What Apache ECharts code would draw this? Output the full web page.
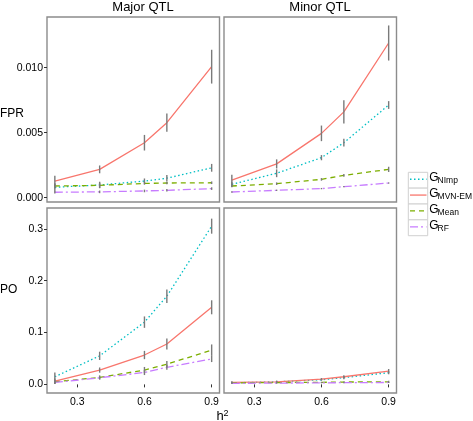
<!DOCTYPE html>
<html>
<head>
<meta charset="utf-8">
<script src="https://cdn.jsdelivr.net/npm/echarts@6/dist/echarts.min.js"></script>
<style>html,body{margin:0;padding:0;background:#fff;}#c{width:473px;height:421px;}</style>
</head>
<body>
<div id="c"></div>
<script>
// ---- data ----
const h2 = [0.2, 0.4, 0.6, 0.7, 0.9];
const methodNames = ['NImp', 'MVN-EM', 'Mean', 'RF'];
const panelTitles = ['Major QTL', 'Minor QTL'];
const rowLabels = ['FPR', 'PO'];
const xTicks = [0.3, 0.6, 0.9];
const fprTicks = [0, 0.005, 0.010];
const poTicks = [0, 0.1, 0.2, 0.3];

// Major QTL, FPR
const majFprNImp = [0.0008, 0.00098, 0.00128, 0.0015, 0.0023];
const majFprMvn  = [0.00128, 0.00218, 0.00423, 0.00577, 0.01008];
const majFprMean = [0.0009, 0.00095, 0.0011, 0.00113, 0.00115];
const majFprRF   = [0.00042, 0.00045, 0.00052, 0.00057, 0.0007];
const majFprNImpErr = [0.0003, 0.00025, 0.0002, 0.00025, 0.0003];
const majFprMvnErr  = [0.0004, 0.0003, 0.0006, 0.0007, 0.0013];
const majFprMeanErr = [0.0002, 0.0002, 0.0001, 0.0001, 0.0001];
const majFprRFErr   = [0.0001, 0.0001, 0.0001, 0.0001, 0.0001];

// Minor QTL, FPR
const minFprNImp = [0.00103, 0.00188, 0.00308, 0.00423, 0.00713];
const minFprMvn  = [0.00136, 0.0026, 0.00495, 0.0066, 0.0119];
const minFprMean = [0.0009, 0.00108, 0.00141, 0.00172, 0.00218];
const minFprRF   = [0.00044, 0.00057, 0.0007, 0.00085, 0.00113];
const minFprNImpErr = [0.0002, 0.0003, 0.0002, 0.0003, 0.0003];
const minFprMvnErr  = [0.0004, 0.00035, 0.0006, 0.0009, 0.00135];
const minFprMeanErr = [0.0001, 0.0001, 0.0001, 0.0001, 0.0002];
const minFprRFErr   = [0.00005, 0.00005, 0.00005, 0.00005, 0.00005];

// Major QTL, PO
const majPoNImp = [0.0147, 0.055, 0.12, 0.17, 0.305];
const majPoMvn  = [0.0064, 0.0276, 0.0566, 0.0778, 0.1486];
const majPoMean = [0.005, 0.0134, 0.0276, 0.039, 0.066];
const majPoRF   = [0.0037, 0.0127, 0.023, 0.033, 0.049];
const majPoNImpErr = [0.008, 0.008, 0.011, 0.013, 0.0145];
const majPoMvnErr  = [0.005, 0.005, 0.008, 0.0106, 0.0135];
const majPoMeanErr = [0.004, 0.004, 0.006, 0.006, 0.011];
const majPoRFErr   = [0.003, 0.003, 0.005, 0.005, 0.006];

// Minor QTL, PO
const minPoNImp = [0.003, 0.005, 0.009, 0.013, 0.0225];
const minPoMvn  = [0.004, 0.005, 0.0102, 0.0147, 0.0257];
const minPoMean = [0.003, 0.0035, 0.004, 0.0045, 0.005];
const minPoRF   = [0.002, 0.0025, 0.003, 0.0033, 0.0037];
const minPoNImpErr = [0.002, 0.002, 0.002, 0.003, 0.003];
const minPoMvnErr  = [0.002, 0.002, 0.002, 0.003, 0.004];
const minPoMeanErr = [0.001, 0.001, 0.001, 0.001, 0.002];
const minPoRFErr   = [0.001, 0.001, 0.001, 0.001, 0.001];

// ---- styles ----
const colors = ['#00BFC4', '#F8766D', '#7CAE00', '#C77CFF'];
const dashes = [[1.5, 2.5], 'solid', [5, 4], [8, 3, 2, 3]];
const FONT = 'Liberation Sans, Arial, sans-serif';

const panels = [
  {left: 47, top: 17, vals: [majFprNImp, majFprMvn, majFprMean, majFprRF], errs: [majFprNImpErr, majFprMvnErr, majFprMeanErr, majFprRFErr], row: 0, col: 0},
  {left: 224, top: 17, vals: [minFprNImp, minFprMvn, minFprMean, minFprRF], errs: [minFprNImpErr, minFprMvnErr, minFprMeanErr, minFprRFErr], row: 0, col: 1},
  {left: 47, top: 208, vals: [majPoNImp, majPoMvn, majPoMean, majPoRF], errs: [majPoNImpErr, majPoMvnErr, majPoMeanErr, majPoRFErr], row: 1, col: 0},
  {left: 224, top: 208, vals: [minPoNImp, minPoMvn, minPoMean, minPoRF], errs: [minPoNImpErr, minPoMvnErr, minPoMeanErr, minPoRFErr], row: 1, col: 1}
];

const grids = [], xAxes = [], yAxes = [], series = [];
panels.forEach((p, gi) => {
  grids.push({left: p.left, top: p.top, width: 172.5, height: 185, show: true,
    borderColor: '#8c8c8c', borderWidth: 1.4, backgroundColor: '#fff', containLabel: false});
  const bottomRow = p.row === 1;
  xAxes.push({type: 'value', gridIndex: gi, min: 0.165, max: 0.935,
    axisLine: {show: false}, splitLine: {show: false},
    axisTick: {show: bottomRow, customValues: xTicks, length: 3, lineStyle: {color: '#333', width: 1}},
    axisLabel: {show: bottomRow, customValues: xTicks, margin: 4, color: '#000', fontSize: 10.5, fontFamily: FONT,
      formatter: v => v.toFixed(1)}});
  const isFpr = p.row === 0;
  const leftCol = p.col === 0;
  yAxes.push({type: 'value', gridIndex: gi,
    min: isFpr ? -0.00033 : -0.0166, max: isFpr ? 0.0139 : 0.340,
    axisLine: {show: false}, splitLine: {show: false},
    axisTick: {show: leftCol, customValues: isFpr ? fprTicks : poTicks, length: 3, lineStyle: {color: '#333', width: 1}},
    axisLabel: {show: leftCol, customValues: isFpr ? fprTicks : poTicks, margin: 4, color: '#000', fontSize: 10.5, fontFamily: FONT,
      formatter: v => isFpr ? v.toFixed(3) : v.toFixed(1)}});
  p.vals.forEach((arr, mi) => {
    series.push({type: 'line', name: methodNames[mi], xAxisIndex: gi, yAxisIndex: gi,
      data: h2.map((x, i) => [x, arr[i]]), showSymbol: false, symbol: 'none', silent: true,
      lineStyle: {color: colors[mi], width: 1.3, type: dashes[mi]}, z: 2, animation: false});
  });
  p.vals.forEach((arr, mi) => {
    const e = p.errs[mi];
    series.push({type: 'custom', xAxisIndex: gi, yAxisIndex: gi, silent: true, animation: false, z: 3,
      data: h2.map((x, i) => [x, arr[i] - e[i], arr[i] + e[i]]),
      encode: {x: 0, y: [1, 2]},
      renderItem: (params, api) => {
        const a = api.coord([api.value(0), api.value(1)]);
        const b = api.coord([api.value(0), api.value(2)]);
        return {type: 'line', shape: {x1: a[0], y1: a[1], x2: b[0], y2: b[1]},
          style: {stroke: '#7a7a7a', lineWidth: 1.4}};
      }});
  });
});

// ---- decorations: strip titles, row labels, x title, legend ----
const graphic = [];
graphic.push({type: 'text', x: 143, y: 7, style: {text: panelTitles[0], font: '13px ' + FONT, fill: '#000', textAlign: 'center', textVerticalAlign: 'middle'}});
graphic.push({type: 'text', x: 320, y: 7, style: {text: panelTitles[1], font: '13px ' + FONT, fill: '#000', textAlign: 'center', textVerticalAlign: 'middle'}});
graphic.push({type: 'text', x: 0, y: 114, style: {text: rowLabels[0], font: '12px ' + FONT, fill: '#000', textAlign: 'left', textVerticalAlign: 'middle'}});
graphic.push({type: 'text', x: 0, y: 290, style: {text: rowLabels[1], font: '12px ' + FONT, fill: '#000', textAlign: 'left', textVerticalAlign: 'middle'}});
graphic.push({type: 'text', x: 216.5, y: 416.5, style: {text: 'h', font: '13px ' + FONT, fill: '#000', textAlign: 'left', textVerticalAlign: 'middle'}});
graphic.push({type: 'text', x: 223.5, y: 413.5, style: {text: '2', font: '9px ' + FONT, fill: '#000', textAlign: 'left', textVerticalAlign: 'middle'}});

const legTop = 172.3, rowH = 15.85;
methodNames.forEach((nm, i) => {
  const y0 = legTop + i * rowH;
  const cy = y0 + rowH / 2;
  graphic.push({type: 'rect', shape: {x: 408.3, y: y0, width: 19.4, height: rowH},
    style: {fill: '#fff', stroke: '#d0d0d0', lineWidth: 1}});
  graphic.push({type: 'line', shape: {x1: 410, y1: cy - 1, x2: 426.5, y2: cy - 1},
    style: {stroke: colors[i], lineWidth: 1.3, lineDash: dashes[i] === 'solid' ? null : dashes[i]}});
  graphic.push({type: 'text', x: 429.3, y: cy - 2.5, style: {text: 'G', font: '12px ' + FONT, fill: '#000', textAlign: 'left', textVerticalAlign: 'middle'}});
  graphic.push({type: 'text', x: 437.6, y: cy + 0.8, style: {text: nm, font: '8.5px ' + FONT, fill: '#000', textAlign: 'left', textVerticalAlign: 'middle'}});
});

const chart = echarts.init(document.getElementById('c'), null, {renderer: 'canvas'});
chart.setOption({
  backgroundColor: '#fff',
  animation: false,
  grid: grids, xAxis: xAxes, yAxis: yAxes, series: series,
  graphic: graphic
});
</script>
</body>
</html>
